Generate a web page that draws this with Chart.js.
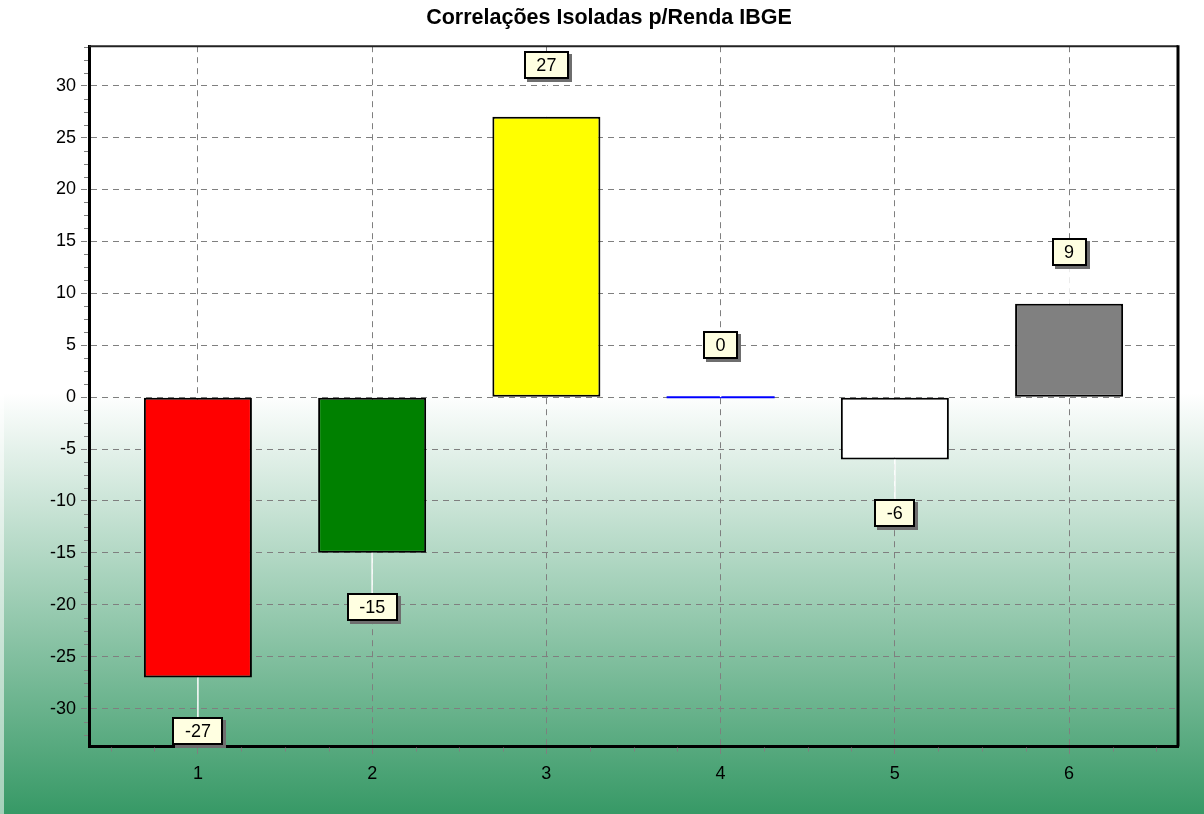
<!DOCTYPE html>
<html lang="pt-BR">
<head>
<meta charset="utf-8">
<title>Correlações Isoladas p/Renda IBGE</title>
<script src="https://cdn.jsdelivr.net/npm/chart.js@4.4.1/dist/chart.umd.min.js"></script>
<style>
  html, body { margin: 0; padding: 0; background: #fff; }
  #wrap { width: 1204px; height: 814px; }
</style>
</head>
<body>
<div id="wrap"><canvas id="corrChart" width="1204" height="814"></canvas></div>
<script>
// Series data
const chartTitle = 'Correlações Isoladas p/Renda IBGE';
const categories = [1, 2, 3, 4, 5, 6];
const correlations = [-27, -15, 27, 0, -6, 9];
const barColors = ['#ff0000', '#008000', '#ffff00', '#0000ff', '#ffffff', '#808080'];
const barEdgeColors = ['#000000', '#000000', '#000000', '#0000ff', '#000000', '#000000'];
const barEdgeWidths = [2, 2, 2, 0, 2, 2];

const FONT = '"Liberation Sans", Arial, sans-serif';
const GRID_GREY = '#7f7f7f';

document.addEventListener("DOMContentLoaded", function () {
  // White panel fading into green below the middle
  const panelBackground = {
    id: 'panelBackground',
    beforeDraw(chart) {
      const c = chart.ctx;
      const w = chart.width, h = chart.height;
      const fadeTop = 393;
      c.save();
      c.fillStyle = '#ffffff';
      c.fillRect(0, 0, w, h);
      const g = c.createLinearGradient(0, fadeTop, 0, h);
      g.addColorStop(0, '#ffffff');
      g.addColorStop(1, '#379966');
      c.fillStyle = g;
      c.fillRect(0, fadeTop, w, h - fadeTop);
      // light bevel on the left edge
      c.fillStyle = 'rgba(255,255,255,0.55)';
      c.fillRect(0, fadeTop, 4, h - fadeTop);

      // panel title, centred a little right of the canvas middle
      c.fillStyle = '#000';
      c.font = 'bold 21.5px ' + FONT;
      c.textAlign = 'center';
      c.textBaseline = 'middle';
      c.fillText(chartTitle, w / 2 + 7, 18.5);
      c.restore();
    }
  };

  // Top/right frame and minor tick marks
  const plotFrame = {
    id: 'plotFrame',
    afterDraw(chart) {
      const c = chart.ctx;
      const a = chart.chartArea;
      const xs = chart.scales.x, ys = chart.scales.y;
      c.save();
      c.strokeStyle = '#222';
      c.lineWidth = 2;
      c.beginPath();
      c.moveTo(a.left, a.top);
      c.lineTo(a.right, a.top);
      c.stroke();
      c.strokeStyle = '#000';
      c.lineWidth = 3;
      c.beginPath();
      c.moveTo(a.right, a.top - 1);
      c.lineTo(a.right, a.bottom);
      c.stroke();

      c.strokeStyle = GRID_GREY;
      c.lineWidth = 1;
      for (let v = Math.ceil(ys.min / 1.25) * 1.25; v <= ys.max; v += 1.25) {
        if (Math.abs(v % 5) < 1e-6) continue;
        const py = Math.round(ys.getPixelForValue(v)) + 0.5;
        c.beginPath();
        c.moveTo(a.left - 5, py);
        c.lineTo(a.left - 1, py);
        c.stroke();
      }
      for (let v = Math.ceil(xs.min / 0.25) * 0.25; v <= xs.max; v += 0.25) {
        if (Math.abs(v - Math.round(v)) < 1e-6) continue;
        const px = Math.round(xs.getPixelForValue(v)) + 0.5;
        c.beginPath();
        c.moveTo(px, a.bottom + 1);
        c.lineTo(px, a.bottom + 5);
        c.stroke();
      }
      c.restore();
    }
  };

  // Boxed value labels with a leader line from the bar end
  const valueLabels = {
    id: 'valueLabels',
    afterDraw(chart) {
      const c = chart.ctx;
      const ys = chart.scales.y;
      const meta = chart.getDatasetMeta(0);
      c.save();
      c.font = '18px ' + FONT;
      c.textAlign = 'center';
      c.textBaseline = 'middle';
      meta.data.forEach((bar, i) => {
        const v = correlations[i];
        const end = ys.getPixelForValue(v);
        const text = String(v);
        const bw = Math.round(c.measureText(text).width + 25);
        const bh = 28;
        const bx = Math.round(bar.x - bw / 2);
        const by = Math.round(v < 0 ? end + 40 : end - 38 - bh);

        c.strokeStyle = '#ffffff';
        c.lineWidth = 1.5;
        c.beginPath();
        c.moveTo(bar.x, end);
        c.lineTo(bar.x, v < 0 ? by : by + bh);
        c.stroke();

        c.fillStyle = '#6e6e6e';
        c.fillRect(bx + 3, by + 3, bw, bh);
        c.fillStyle = '#ffffe1';
        c.fillRect(bx, by, bw, bh);
        c.strokeStyle = '#000';
        c.lineWidth = 2;
        c.strokeRect(bx + 1, by + 1, bw - 2, bh - 2);
        c.fillStyle = '#000';
        c.fillText(text, bar.x, by + bh / 2 + 1);
      });
      c.restore();
    }
  };

  const ctx = document.getElementById('corrChart').getContext('2d');

  new Chart(ctx, {
    type: 'bar',
    data: {
      datasets: [{
        data: categories.map((cat, i) => ({ x: cat, y: correlations[i] })),
        backgroundColor: barColors,
        borderColor: barEdgeColors,
        borderWidth: barEdgeWidths,
        borderSkipped: false,
        minBarLength: 2,
        barPercentage: 0.62,
        categoryPercentage: 1
      }]
    },
    options: {
      responsive: false,
      animation: false,
      events: [],
      layout: { padding: { left: 0, right: 26, top: 46.2, bottom: 0 } },
      plugins: {
        legend: { display: false },
        tooltip: { enabled: false },
        title: { display: false }
      },
      scales: {
        x: {
          type: 'linear',
          min: 0.375,
          max: 6.625,
          offset: false,
          ticks: {
            stepSize: 1,
            includeBounds: false,
            autoSkip: false,
            maxRotation: 0,
            color: '#000',
            padding: 7,
            font: { family: FONT, size: 18 }
          },
          grid: {
            offset: false,
            color: GRID_GREY,
            lineWidth: 1,
            tickLength: 10,
            tickBorderDash: [6, 5]
          },
          border: { color: '#000', width: 3, dash: [6, 5] },
          afterFit(scale) { scale.height = 67.5; }
        },
        y: {
          min: -33.65,
          max: 33.8,
          ticks: {
            stepSize: 5,
            includeBounds: false,
            color: '#000',
            padding: 5,
            font: { family: FONT, size: 18 }
          },
          grid: {
            color: GRID_GREY,
            lineWidth: 1,
            tickLength: 8,
            tickBorderDash: [6, 5]
          },
          border: { color: '#000', width: 3, dash: [6, 5] },
          afterFit(scale) { scale.width = 89; }
        }
      }
    },
    plugins: [panelBackground, plotFrame, valueLabels]
  });
});
</script>
</body>
</html>
